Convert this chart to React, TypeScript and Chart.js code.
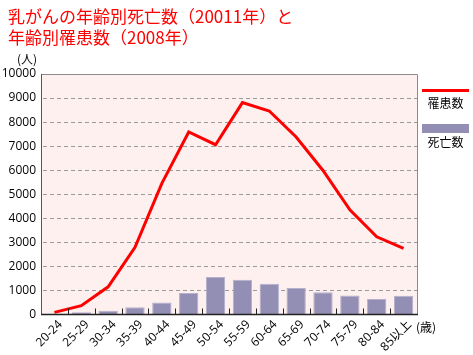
import React, { useEffect, useRef } from 'react';
import { Chart, registerables } from 'chart.js';

Chart.register(...registerables);

const categories = ['20-24', '25-29', '30-34', '35-39', '40-44', '45-49', '50-54', '55-59', '60-64', '65-69', '70-74', '75-79', '80-84', '85以上'];
const incidence = [90, 365, 1150, 2790, 5450, 7590, 7060, 8810, 8460, 7380, 5990, 4350, 3230, 2750];
const deaths = [20, 90, 160, 300, 500, 890, 1560, 1440, 1280, 1100, 930, 790, 640, 780];
const yMin = 0;
const yMax = 10000;
const yStep = 1000;

const titleLines = ['乳がんの年齢別死亡数（20011年）と', '年齢別罹患数（2008年）'];
const incidenceLabel = '罹患数';
const deathsLabel = '死亡数';
const yUnit = '(人)';
const xUnit = '(歳)';

const JP = '"Noto Sans CJK JP", "Open Sans", sans-serif';
const NUM = '"Open Sans", "Noto Sans CJK JP", sans-serif';

const framePlugin = {
  id: 'frame',
  beforeDraw(chart: any) {
    const { ctx, chartArea: a } = chart;
    ctx.save();
    ctx.fillStyle = '#FFF0F0';
    ctx.fillRect(a.left, a.top, a.right - a.left, a.bottom - a.top);
    ctx.restore();
  },
  beforeDatasetsDraw(chart: any) {
    const { ctx, chartArea: a } = chart;
    const ys = chart.scales.y;
    ctx.save();
    ctx.strokeStyle = '#9a9a9a';
    ctx.lineWidth = 1;
    ctx.setLineDash([4, 3]);
    ys.ticks.forEach((t: any) => {
      if (t.value === yMin || t.value === yMax) return;
      const y = Math.round(ys.getPixelForValue(t.value)) + 0.5;
      ctx.beginPath();
      ctx.moveTo(a.left + 2, y);
      ctx.lineTo(a.right, y);
      ctx.stroke();
    });
    ctx.restore();
  },
  afterDraw(chart: any) {
    const { ctx, chartArea: a } = chart;
    const xs = chart.scales.x;
    ctx.save();
    ctx.strokeStyle = '#8a8a8a';
    ctx.lineWidth = 1;
    ctx.beginPath();
    ctx.moveTo(a.left, a.top + 0.5);
    ctx.lineTo(a.right + 0.5, a.top + 0.5);
    ctx.lineTo(a.right + 0.5, a.bottom);
    ctx.stroke();
    ctx.strokeStyle = '#555';
    ctx.beginPath();
    ctx.moveTo(a.left + 0.5, a.top);
    ctx.lineTo(a.left + 0.5, a.bottom);
    ctx.stroke();
    ctx.strokeStyle = '#222';
    ctx.lineWidth = 1.5;
    ctx.beginPath();
    ctx.moveTo(a.left, a.bottom);
    ctx.lineTo(a.right + 1, a.bottom);
    ctx.stroke();
    ctx.lineWidth = 1;
    const n = categories.length;
    for (let i = 0; i < n - 1; i++) {
      const x = Math.round((xs.getPixelForValue(i) + xs.getPixelForValue(i + 1)) / 2) + 0.5;
      ctx.beginPath();
      ctx.moveTo(x, a.bottom);
      ctx.lineTo(x, a.bottom - 6);
      ctx.stroke();
    }
    ctx.restore();
  },
};

export default function App() {
  const ref = useRef<HTMLCanvasElement | null>(null);

  useEffect(() => {
    if (!ref.current) return;
    const chart = new Chart(ref.current, {
      type: 'bar',
      data: {
        labels: categories,
        datasets: [
          {
            type: 'line',
            label: incidenceLabel,
            data: incidence,
            borderColor: '#FF0000',
            backgroundColor: '#FF0000',
            borderWidth: 3,
            pointRadius: 0,
            tension: 0,
            order: 0,
          } as any,
          {
            type: 'bar',
            label: deathsLabel,
            data: deaths,
            backgroundColor: '#938EB3',
            borderColor: '#B4B0CC',
            borderWidth: 1,
            categoryPercentage: 1,
            barPercentage: 0.72,
            order: 1,
          } as any,
        ],
      },
      options: {
        responsive: false,
        animation: false,
        layout: { padding: { top: 74, right: 56, left: 0, bottom: 0 } },
        plugins: {
          legend: { display: false },
          title: { display: false },
          tooltip: { enabled: false },
        },
        scales: {
          x: {
            offset: true,
            grid: { display: false, drawTicks: false },
            border: { display: false },
            ticks: {
              autoSkip: false,
              maxRotation: 45,
              minRotation: 45,
              padding: 3,
              labelOffset: 6,
              color: '#000',
              font: { family: NUM, size: 12 },
            },
            afterFit(scale: any) {
              scale.height = 40.5;
            },
          },
          y: {
            min: yMin,
            max: yMax,
            grid: { display: false, drawTicks: false },
            border: { display: false },
            ticks: {
              stepSize: yStep,
              padding: 5,
              color: '#000',
              font: { family: NUM, size: 12 },
              callback: (v: any) => String(v),
            },
            afterFit(scale: any) {
              scale.width = 41;
            },
          },
        },
      },
      plugins: [framePlugin],
    });
    return () => chart.destroy();
  }, []);

  return (
    <div style={{ position: 'fixed', left: 0, top: 0, width: 473, height: 355, background: '#fff', overflow: 'hidden' }}>
      <canvas ref={ref} width={473} height={355} style={{ position: 'absolute', left: 0, top: 0 }} />
      <div style={{ position: 'absolute', left: 8, top: 5, color: '#FF0000', fontFamily: JP, fontSize: 17, lineHeight: '21px', whiteSpace: 'nowrap' }}>
        <div>{titleLines[0]}</div>
        <div>{titleLines[1]}</div>
      </div>
      <div style={{ position: 'absolute', left: 17, top: 51, fontFamily: JP, fontSize: 12, lineHeight: '16px', color: '#000', whiteSpace: 'nowrap' }}>{yUnit}</div>
      <div style={{ position: 'absolute', left: 416, top: 319, fontFamily: JP, fontSize: 12, lineHeight: '16px', color: '#000', whiteSpace: 'nowrap' }}>{xUnit}</div>
      <div style={{ position: 'absolute', left: 422, top: 89, width: 47, height: 3, background: '#FF0000' }} />
      <div style={{ position: 'absolute', left: 422, top: 95, width: 47, textAlign: 'center', fontFamily: JP, fontSize: 12, lineHeight: '16px', color: '#000' }}>{incidenceLabel}</div>
      <div style={{ position: 'absolute', left: 422, top: 124, width: 47, height: 9, background: '#938EB3' }} />
      <div style={{ position: 'absolute', left: 422, top: 134, width: 47, textAlign: 'center', fontFamily: JP, fontSize: 12, lineHeight: '16px', color: '#000' }}>{deathsLabel}</div>
    </div>
  );
}
